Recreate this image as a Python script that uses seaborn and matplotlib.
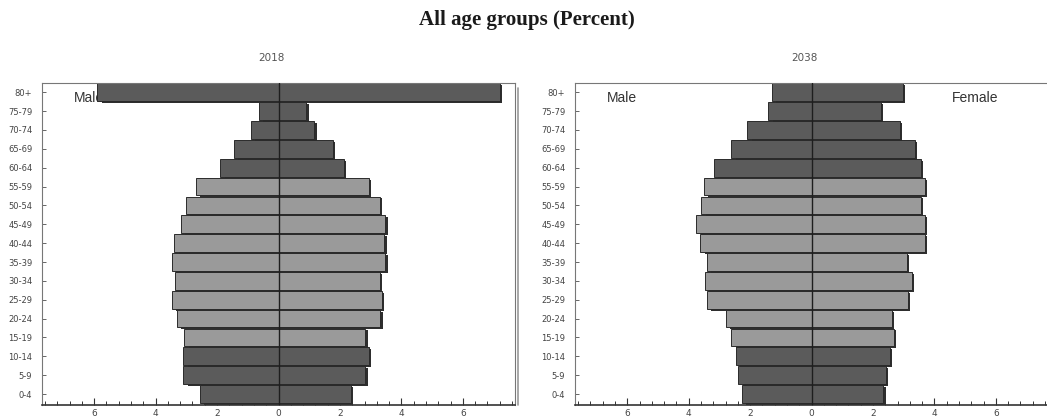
import numpy as np
import pandas as pd
import matplotlib
matplotlib.use("Agg")
import matplotlib.pyplot as plt
from matplotlib.ticker import MultipleLocator, FuncFormatter
import seaborn as sns

ages = ["80+", "75-79", "70-74", "65-69", "60-64", "55-59", "50-54", "45-49",
        "40-44", "35-39", "30-34", "25-29", "20-24", "15-19", "10-14", "5-9", "0-4"]

male_2018 = [5.9, 0.65, 0.91, 1.46, 1.89, 2.70, 3.01, 3.19, 3.39, 3.47, 3.36,
             3.47, 3.30, 3.07, 3.10, 3.10, 2.57]
female_2018 = [7.2, 0.91, 1.17, 1.78, 2.13, 2.94, 3.29, 3.48, 3.45, 3.48, 3.29,
               3.38, 3.32, 2.83, 2.94, 2.83, 2.37]

male_2038 = [1.30, 1.41, 2.09, 2.61, 3.18, 3.51, 3.59, 3.75, 3.62, 3.40, 3.48,
             3.40, 2.80, 2.61, 2.47, 2.38, 2.27]
female_2038 = [2.97, 2.27, 2.89, 3.36, 3.57, 3.68, 3.57, 3.70, 3.68, 3.10, 3.28,
               3.15, 2.61, 2.69, 2.54, 2.43, 2.34]

# working-age groups are drawn lighter
working_age = ["55-59", "50-54", "45-49", "40-44", "35-39", "30-34", "25-29",
               "20-24", "15-19"]

DARK = "#5b5b5b"
LIGHT = "#9a9a9a"
SHADOW = "#2e2e2e"
EDGE = "#2a2a2a"
palette = {a: (LIGHT if a in working_age else DARK) for a in ages}

sns.set_theme(style="white")
plt.rcParams["font.family"] = ["DejaVu Sans"]

fig = plt.figure(figsize=(10.47, 4.19), dpi=100)
ax_l = fig.add_axes([0.0401, 0.0334, 0.4518, 0.768])
ax_r = fig.add_axes([0.5492, 0.0334, 0.4518, 0.768])


def draw_pyramid(ax, male, female, year):
    df = pd.DataFrame({"age": ages, "male": -np.array(male), "female": female})
    pos = np.arange(len(ages))
    dx, dy = 0.07, 0.1
    h = 0.94

    # drop shadows behind the bars
    ax.barh(pos + dy, df["male"] + dx, left=dx, height=h, color=SHADOW,
            linewidth=0, zorder=0.9)
    ax.barh(pos + dy, df["female"], left=dx, height=h, color=SHADOW,
            linewidth=0, zorder=0.9)

    for col in ("male", "female"):
        sns.barplot(data=df, x=col, y="age", hue="age", palette=palette,
                    legend=False, orient="h", width=h, saturation=1,
                    edgecolor=EDGE, linewidth=0.7, ax=ax, zorder=1)

    ax.axvline(0, color="#1e1e1e", lw=1.0, zorder=3)

    # side labels sit underneath the bars, as in the original
    ax.text(-6.65, 0.33, "Male", fontsize=10, color="#333333", va="center",
            ha="left", family="Liberation Sans", zorder=0.5)
    ax.text(4.58, 0.33, "Female", fontsize=10, color="#333333", va="center",
            ha="left", family="Liberation Sans", zorder=0.5)

    ax.set_xlim(-7.7, 7.7)
    ax.set_ylim(16.58, -0.48)
    ax.set_xlabel("")
    ax.set_ylabel("")

    ax.xaxis.set_major_locator(MultipleLocator(2))
    ax.xaxis.set_minor_locator(MultipleLocator(0.4))
    ax.xaxis.set_major_formatter(FuncFormatter(lambda v, p: f"{abs(v):.0f}"))
    ax.tick_params(axis="x", which="major", direction="in", length=5,
                   width=0.8, color="#333333", labelsize=6.5, pad=3,
                   labelcolor="#444444", bottom=True)
    ax.tick_params(axis="x", which="minor", direction="in", length=3,
                   width=0.7, color="#333333", bottom=True)
    ax.tick_params(axis="y", direction="in", length=3, width=0.7,
                   color="#666666", labelsize=6, pad=7, labelcolor="#444444",
                   left=True)

    for side in ("top", "right", "left"):
        ax.spines[side].set_color("#777777")
        ax.spines[side].set_linewidth(0.8)
    ax.spines["bottom"].set_color("#333333")
    ax.spines["bottom"].set_linewidth(1.2)

    # frame shadow on the right edge
    ax.plot([1.007, 1.007], [0.0, 0.985], transform=ax.transAxes,
            color="#9a9a9a", lw=1.2, clip_on=False)

    bb = ax.get_position()
    fig.text(bb.x0 + bb.width * 0.485, 0.862, year, ha="center", va="center",
             fontsize=7.5, color="#555555")


draw_pyramid(ax_l, male_2018, female_2018, "2018")
draw_pyramid(ax_r, male_2038, female_2038, "2038")

fig.text(0.503, 0.952, "All age groups (Percent)", ha="center", va="center",
         fontsize=15, fontweight="bold", family="Liberation Serif",
         color="#1a1a1a")

fig.savefig("out.png", dpi=100)
